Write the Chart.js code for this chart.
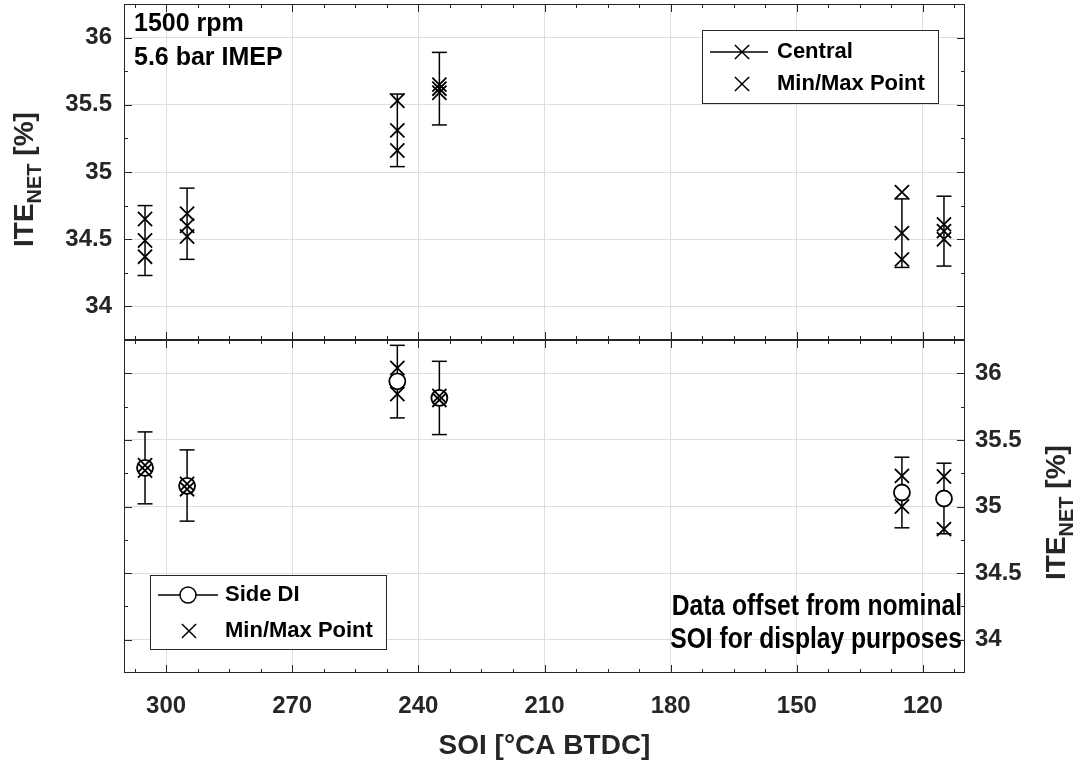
<!DOCTYPE html>
<html>
<head>
<meta charset="utf-8">
<title>ITE NET vs SOI</title>
<script src="https://cdn.jsdelivr.net/npm/chart.js@4.4.1/dist/chart.umd.min.js"></script>
<style>
  html, body { margin: 0; padding: 0; background: #fff; }
  #wrap { position: relative; width: 1085px; height: 763px; }
  #topChart { position: absolute; left: 0; top: 0; }
  #botChart { position: absolute; left: 0; top: 340px; }
</style>
</head>
<body>
<div id="wrap">
  <canvas id="topChart" width="1085" height="340"></canvas>
  <canvas id="botChart" width="1085" height="423"></canvas>
</div>
<script>
// SOI positions (offset +-5 from nominal 300 / 240 / 120 for display)
const soi = [305, 295, 245, 235, 125, 115];

// Central injector (top panel)
const centralVal = [34.49, 34.60, 35.31, 35.62, 34.545, 34.56];
const centralMin = [34.37, 34.52, 35.16, 35.59, 34.35, 34.50];
const centralMax = [34.65, 34.69, 35.53, 35.65, 34.85, 34.61];
const centralErrLow = [34.23, 34.35, 35.04, 35.35, 34.29, 34.30];
const centralErrHigh = [34.75, 34.88, 35.58, 35.89, 34.80, 34.82];

// Side DI (bottom panel)
const sideVal = [35.29, 35.155, 35.94, 35.815, 35.105, 35.06];
const sideMin = [35.27, 35.13, 35.845, 35.80, 35.00, 34.83];
const sideMax = [35.31, 35.17, 36.04, 35.83, 35.23, 35.225];
const sideErrLow = [35.02, 34.89, 35.665, 35.54, 34.84, 34.795];
const sideErrHigh = [35.56, 35.425, 36.21, 36.09, 35.37, 35.325];

// axes
const xTicks = [120, 150, 180, 210, 240, 270, 300];
const xMinorTicks = [112.5, 127.5, 135, 142.5, 157.5, 165, 172.5, 187.5, 195, 202.5,
  217.5, 225, 232.5, 247.5, 255, 262.5, 277.5, 285, 292.5, 307.5];
const yTicks = [34, 34.5, 35, 35.5, 36];
const yMinorTicks = [34.25, 34.75, 35.25, 35.75];

const FONT = '"Liberation Sans", Arial, sans-serif';
const AXIS_COLOR = '#262626';
const GRID_COLOR = '#dfdfdf';

function toPoints(vals) {
  return soi.map((x, i) => ({ x: x, y: vals[i] }));
}

// one small dataset per error bar, caps drawn with the 'line' point style
function errorBarSets(lo, hi) {
  return soi.map((x, i) => ({
    data: [{ x: x, y: lo[i] }, { x: x, y: hi[i] }],
    showLine: true,
    borderColor: '#000',
    borderWidth: 1.5,
    pointStyle: 'line',
    pointRadius: 7.5,
    pointBorderWidth: 1.5,
    pointBorderColor: '#000',
    order: 3
  }));
}

function markerSet(vals, style, radius, order) {
  return {
    data: toPoints(vals),
    showLine: false,
    pointStyle: style,
    pointRadius: radius,
    pointBorderWidth: 1.8,
    pointBorderColor: '#000',
    pointBackgroundColor: '#fff',
    order: order
  };
}

// box + MATLAB style inward ticks on all sides
const framePlugin = {
  id: 'frame',
  afterDraw(chart) {
    const ctx = chart.ctx, a = chart.chartArea;
    const xs = chart.scales.x, ys = chart.scales.y;
    ctx.save();
    ctx.strokeStyle = AXIS_COLOR;
    ctx.lineWidth = 1;
    ctx.strokeRect(a.left + 0.5, a.top + 0.5, a.right - a.left - 1, a.bottom - a.top - 1);
    ctx.beginPath();
    const xTick = (v, len) => {
      const px = Math.round(xs.getPixelForValue(v)) + 0.5;
      ctx.moveTo(px, a.top); ctx.lineTo(px, a.top + len);
      ctx.moveTo(px, a.bottom); ctx.lineTo(px, a.bottom - len);
    };
    const yTick = (v, len) => {
      const py = Math.round(ys.getPixelForValue(v)) + 0.5;
      ctx.moveTo(a.left, py); ctx.lineTo(a.left + len, py);
      ctx.moveTo(a.right, py); ctx.lineTo(a.right - len, py);
    };
    xTicks.forEach(v => xTick(v, 8));
    xMinorTicks.forEach(v => xTick(v, 4));
    yTicks.forEach(v => yTick(v, 8));
    yMinorTicks.forEach(v => yTick(v, 4));
    ctx.stroke();
    ctx.restore();
  }
};

function drawYTitle(ctx, x, y) {
  ctx.save();
  ctx.translate(x, y);
  ctx.rotate(-Math.PI / 2);
  ctx.fillStyle = AXIS_COLOR;
  ctx.textAlign = 'left';
  ctx.textBaseline = 'alphabetic';
  ctx.font = 'bold 28px ' + FONT;
  ctx.fillText('ITE', 0, 0);
  let w = ctx.measureText('ITE').width;
  ctx.font = 'bold 20px ' + FONT;
  ctx.fillText('NET', w, 8);
  w += ctx.measureText('NET').width;
  ctx.font = 'bold 28px ' + FONT;
  ctx.fillText(' [%]', w, 0);
  ctx.restore();
}

function drawLegend(ctx, box, rows) {
  ctx.save();
  ctx.fillStyle = '#fff';
  ctx.fillRect(box.x, box.y, box.w, box.h);
  ctx.strokeStyle = AXIS_COLOR;
  ctx.lineWidth = 1;
  ctx.strokeRect(box.x + 0.5, box.y + 0.5, box.w, box.h);
  rows.forEach(r => {
    ctx.strokeStyle = '#000';
    ctx.lineWidth = 1.5;
    if (r.line) {
      ctx.beginPath();
      ctx.moveTo(r.line[0], r.y);
      ctx.lineTo(r.line[1], r.y);
      ctx.stroke();
    }
    ctx.fillStyle = '#fff';
    Chart.helpers.drawPoint(ctx, { pointStyle: r.style, radius: r.radius, borderWidth: 1.8, rotation: 0 }, r.mx, r.y);
    ctx.fillStyle = '#000';
    ctx.font = 'bold 22px ' + FONT;
    ctx.textAlign = 'left';
    ctx.textBaseline = 'middle';
    ctx.fillText(r.text, r.tx, r.y);
  });
  ctx.restore();
}

const topTexts = {
  id: 'topTexts',
  afterDraw(chart) {
    const ctx = chart.ctx;
    ctx.save();
    ctx.fillStyle = '#000';
    ctx.font = 'bold 25px ' + FONT;
    ctx.textAlign = 'left';
    ctx.textBaseline = 'middle';
    ctx.fillText('1500 rpm', 134, 24);
    ctx.fillText('5.6 bar IMEP', 134, 58);
    ctx.restore();
    drawLegend(ctx, { x: 702, y: 30, w: 236, h: 73 }, [
      { text: 'Central', y: 52, line: [710, 768], style: 'crossRot', radius: 10, mx: 742, tx: 777 },
      { text: 'Min/Max Point', y: 84, style: 'crossRot', radius: 10, mx: 742, tx: 777 }
    ]);
    drawYTitle(ctx, 33, 247);
  }
};

const botTexts = {
  id: 'botTexts',
  afterDraw(chart) {
    const ctx = chart.ctx;
    drawLegend(ctx, { x: 150, y: 235, w: 236, h: 74 }, [
      { text: 'Side DI', y: 255, line: [158, 218], style: 'circle', radius: 8, mx: 188, tx: 225 },
      { text: 'Min/Max Point', y: 291, style: 'crossRot', radius: 10, mx: 189, tx: 225 }
    ]);
    ctx.save();
    ctx.fillStyle = '#000';
    ctx.font = 'bold 29px ' + FONT;
    ctx.textAlign = 'right';
    ctx.textBaseline = 'middle';
    [['Data offset from nominal', 267], ['SOI for display purposes', 300]].forEach(([t, y]) => {
      ctx.save();
      ctx.translate(962, y);
      ctx.scale(0.85, 1);
      ctx.fillText(t, 0, 0);
      ctx.restore();
    });
    ctx.restore();
    drawYTitle(ctx, 1065, 240);
  }
};

const tickFont = { family: FONT, size: 24, weight: 'bold' };

function xScale(showLabels) {
  return {
    type: 'linear',
    reverse: true,
    min: 110,
    max: 310,
    afterBuildTicks: s => { s.ticks = xTicks.map(v => ({ value: v })); },
    afterFit: s => {
      s.height = showLabels ? 90 : 0;
      s.paddingLeft = 0; s.paddingRight = 0;
    },
    grid: { color: GRID_COLOR, drawTicks: false },
    border: { display: false },
    ticks: { display: showLabels, font: tickFont, color: AXIS_COLOR, padding: 19, maxRotation: 0,
      callback: v => String(v) },
    title: {
      display: showLabels,
      text: 'SOI [°CA BTDC]',
      font: { family: FONT, size: 28, weight: 'bold' },
      color: AXIS_COLOR,
      padding: { top: 0, bottom: 0 }
    }
  };
}

function yScale(pos, width, pad) {
  return {
    type: 'linear',
    position: pos,
    min: 33.75,
    max: 36.25,
    afterBuildTicks: s => { s.ticks = yTicks.map(v => ({ value: v })); },
    afterFit: s => {
      s.width = width;
      s.paddingTop = 0; s.paddingBottom = 0;
    },
    grid: { color: GRID_COLOR, drawTicks: false },
    border: { display: false },
    ticks: { font: tickFont, color: AXIS_COLOR, padding: pad, callback: v => String(v) }
  };
}

const baseOptions = {
  responsive: false,
  animation: false,
  events: [],
  plugins: { legend: { display: false }, tooltip: { enabled: false } }
};

new Chart(document.getElementById('topChart'), {
  type: 'scatter',
  data: {
    datasets: [
      ...errorBarSets(centralErrLow, centralErrHigh),
      markerSet(centralVal, 'crossRot', 10, 2),
      markerSet(centralMin, 'crossRot', 10, 1),
      markerSet(centralMax, 'crossRot', 10, 1)
    ]
  },
  options: {
    ...baseOptions,
    layout: { autoPadding: false, padding: { top: 4, right: 120, bottom: 0, left: 0 } },
    scales: { x: xScale(false), y: yScale('left', 124, 12) }
  },
  plugins: [framePlugin, topTexts]
});

new Chart(document.getElementById('botChart'), {
  type: 'scatter',
  data: {
    datasets: [
      ...errorBarSets(sideErrLow, sideErrHigh),
      markerSet(sideVal, 'circle', 8, 2),
      markerSet(sideMin, 'crossRot', 10, 1),
      markerSet(sideMax, 'crossRot', 10, 1)
    ]
  },
  options: {
    ...baseOptions,
    layout: { autoPadding: false, padding: { top: 0, right: 0, bottom: 0, left: 124 } },
    scales: { x: xScale(true), y: yScale('right', 120, 10) }
  },
  plugins: [framePlugin, botTexts]
});
</script>
</body>
</html>
